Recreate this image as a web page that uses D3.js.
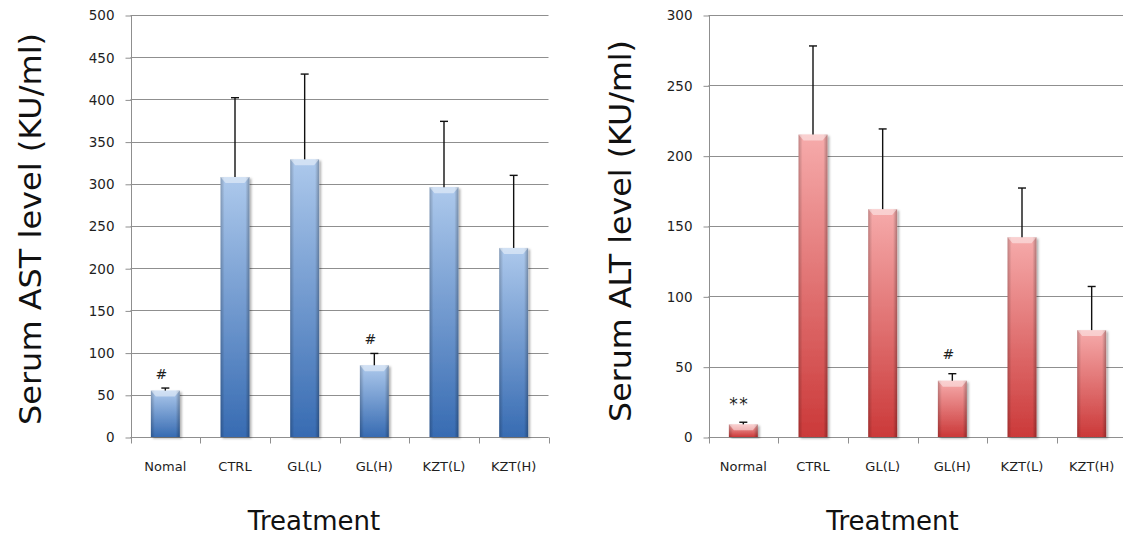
<!DOCTYPE html>
<html>
<head>
<meta charset="utf-8">
<script src="https://cdn.jsdelivr.net/npm/d3@7"></script>
<style>
  html, body { margin: 0; padding: 0; background: #fff; }
  svg { display: block; }
</style>
</head>
<body>
<svg id="chart" width="1123" height="536"></svg>
<script>
// ---- Data ----
const categoriesAST = ["Nomal", "CTRL", "GL(L)", "GL(H)", "KZT(L)", "KZT(H)"];
const astMeans = [55, 308, 329, 85, 296, 224];
const astErrors = [3, 94, 101, 14, 78, 86];
const astMarks = ["#", "", "", "#", "", ""];
const astTicks = [0, 50, 100, 150, 200, 250, 300, 350, 400, 450, 500];

const categoriesALT = ["Normal", "CTRL", "GL(L)", "GL(H)", "KZT(L)", "KZT(H)"];
const altMeans = [9, 215, 162, 40, 142, 76];
const altErrors = [1.5, 63, 57, 5, 35, 31];
const altMarks = ["**", "", "", "#", "", ""];
const altTicks = [0, 50, 100, 150, 200, 250, 300];

const yTitleAST = "Serum AST level (KU/ml)";
const yTitleALT = "Serum ALT level (KU/ml)";
const xTitle = "Treatment";

// ---- Drawing ----
const svg = d3.select("#chart");
const defs = svg.append("defs");

const shadow = defs.append("filter").attr("id", "shadow")
  .attr("x", "-20%").attr("y", "-5%").attr("width", "150%").attr("height", "115%");
shadow.append("feDropShadow").attr("dx", 2).attr("dy", 1.5).attr("stdDeviation", 1.3)
  .attr("flood-color", "#000").attr("flood-opacity", 0.3);

function vGrad(id, top, bottom) {
  const g = defs.append("linearGradient").attr("id", id)
    .attr("x1", 0).attr("y1", 0).attr("x2", 0).attr("y2", 1);
  g.append("stop").attr("offset", "0%").attr("stop-color", top);
  g.append("stop").attr("offset", "100%").attr("stop-color", bottom);
}
vGrad("blueGrad", "#adc9ec", "#376bb2");
vGrad("redGrad", "#f6abab", "#cb3939");

const bevel = defs.append("linearGradient").attr("id", "bevel")
  .attr("x1", 0).attr("y1", 0).attr("x2", 1).attr("y2", 0);
[["0%", "#000", 0.22], ["14%", "#000", 0.0], ["86%", "#000", 0.0], ["100%", "#000", 0.28]]
  .forEach(([o, c, a]) => bevel.append("stop").attr("offset", o).attr("stop-color", c).attr("stop-opacity", a));

function panel(opt) {
  const g = svg.append("g");
  const x = d3.scaleBand().domain(opt.categories).range([opt.left, opt.right]).paddingInner(0).paddingOuter(0);
  const y = d3.scaleLinear().domain([0, d3.max(opt.ticks)]).range([opt.bottom, opt.top]);
  const barW = x.bandwidth() * 0.415;

  // gridlines
  g.append("g").selectAll("line").data(opt.ticks).join("line")
    .attr("x1", opt.left).attr("x2", opt.right)
    .attr("y1", d => Math.round(y(d)) + 0.5).attr("y2", d => Math.round(y(d)) + 0.5)
    .attr("stroke", "#8f8f8f").attr("stroke-width", 1);

  // y axis
  const yAxis = d3.axisLeft(y).tickValues(opt.ticks).tickSize(6).tickPadding(11).tickFormat(d3.format("d"));
  const ya = g.append("g").attr("transform", `translate(${Math.round(opt.left) + 0.5},0.5)`).call(yAxis);
  ya.select(".domain").attr("stroke", "#8f8f8f").attr("d", `M0,${opt.top}V${opt.bottom}`);
  ya.selectAll(".tick line").attr("stroke", "#8f8f8f");
  ya.selectAll(".tick text").attr("font-family", "DejaVu Sans, Verdana, sans-serif")
    .attr("font-size", 13.5).attr("fill", "#1e1e1e");

  // x axis
  const xa = g.append("g").attr("transform", `translate(0,${Math.round(opt.bottom) + 0.5})`);
  xa.append("line").attr("x1", opt.left).attr("x2", opt.right).attr("stroke", "#8f8f8f");
  const bounds = opt.categories.map(c => x(c)).concat([opt.right]);
  xa.selectAll("line.tk").data(bounds).join("line").attr("class", "tk")
    .attr("x1", d => Math.round(d) + 0.5).attr("x2", d => Math.round(d) + 0.5)
    .attr("y1", 0).attr("y2", 6).attr("stroke", "#8f8f8f");
  xa.selectAll("text").data(opt.categories).join("text")
    .attr("x", d => x(d) + x.bandwidth() / 2).attr("y", 33)
    .attr("text-anchor", "middle")
    .attr("font-family", "DejaVu Sans, Verdana, sans-serif").attr("font-size", 13)
    .attr("fill", "#1e1e1e").text(d => d);

  const data = opt.categories.map((c, i) => ({ c, v: opt.means[i], e: opt.errors[i], m: opt.marks[i] }));
  const cx = d => x(d.c) + x.bandwidth() / 2;

  // bars
  const bars = g.append("g").selectAll("g").data(data).join("g");
  bars.append("rect")
    .attr("x", d => cx(d) - barW / 2).attr("width", barW)
    .attr("y", d => y(d.v)).attr("height", d => y(0) - y(d.v))
    .attr("fill", `url(#${opt.grad})`).attr("filter", "url(#shadow)");
  bars.append("rect")
    .attr("x", d => cx(d) - barW / 2).attr("width", barW)
    .attr("y", d => y(d.v)).attr("height", d => y(0) - y(d.v))
    .attr("fill", "url(#bevel)");
  // top highlight bevel
  bars.append("path")
    .attr("d", d => {
      const x0 = cx(d) - barW / 2, x1 = cx(d) + barW / 2, t = y(d.v), h = Math.min(6, (y(0) - y(d.v)) / 2);
      return `M${x0},${t}L${x1},${t}L${x1 - 5},${t + h}L${x0 + 5},${t + h}Z`;
    })
    .attr("fill", "#ffffff").attr("fill-opacity", 0.45);

  // error bars
  const eb = g.append("g").selectAll("g").data(data).join("g")
    .attr("stroke", "#111").attr("stroke-width", 1.4);
  eb.append("line")
    .attr("x1", d => cx(d)).attr("x2", d => cx(d))
    .attr("y1", d => y(d.v)).attr("y2", d => y(d.v + d.e));
  eb.append("line")
    .attr("x1", d => cx(d) - 4).attr("x2", d => cx(d) + 4)
    .attr("y1", d => y(d.v + d.e)).attr("y2", d => y(d.v + d.e));

  // significance marks
  g.append("g").selectAll("text").data(data.filter(d => d.m)).join("text")
    .attr("x", d => cx(d) - 4)
    .attr("y", d => y(d.v + d.e) - (d.m === "**" ? 12 : opt.markGap))
    .attr("text-anchor", "middle")
    .attr("font-family", "DejaVu Sans, Verdana, sans-serif")
    .attr("font-size", d => d.m === "**" ? 17 : 14)
    .attr("letter-spacing", d => d.m === "**" ? 1.5 : 0)
    .attr("fill", "#1e1e1e").text(d => d.m);

  // titles
  g.append("text")
    .attr("transform", `translate(${opt.yTitleX},${opt.yTitleY}) rotate(-90)`)
    .attr("text-anchor", "middle")
    .attr("font-family", "DejaVu Sans, Verdana, sans-serif").attr("font-size", 30)
    .attr("textLength", opt.yTitleLen).attr("lengthAdjust", "spacingAndGlyphs")
    .attr("fill", "#111").text(opt.yTitle);
  g.append("text")
    .attr("x", opt.xTitleX).attr("y", 530)
    .attr("text-anchor", "middle")
    .attr("font-family", "DejaVu Sans, Verdana, sans-serif").attr("font-size", 26)
    .attr("fill", "#111").text(xTitle);
}

panel({
  categories: categoriesAST, means: astMeans, errors: astErrors, marks: astMarks, ticks: astTicks,
  left: 130.5, right: 548.5, top: 15, bottom: 437, grad: "blueGrad", markGap: 9,
  yTitle: yTitleAST, yTitleX: 41, yTitleY: 229, yTitleLen: 392, xTitleX: 314
});
panel({
  categories: categoriesALT, means: altMeans, errors: altErrors, marks: altMarks, ticks: altTicks,
  left: 708.5, right: 1126.5, top: 15, bottom: 437, grad: "redGrad", markGap: 15,
  yTitle: yTitleALT, yTitleX: 631, yTitleY: 231, yTitleLen: 382, xTitleX: 892.5
});
</script>
</body>
</html>
